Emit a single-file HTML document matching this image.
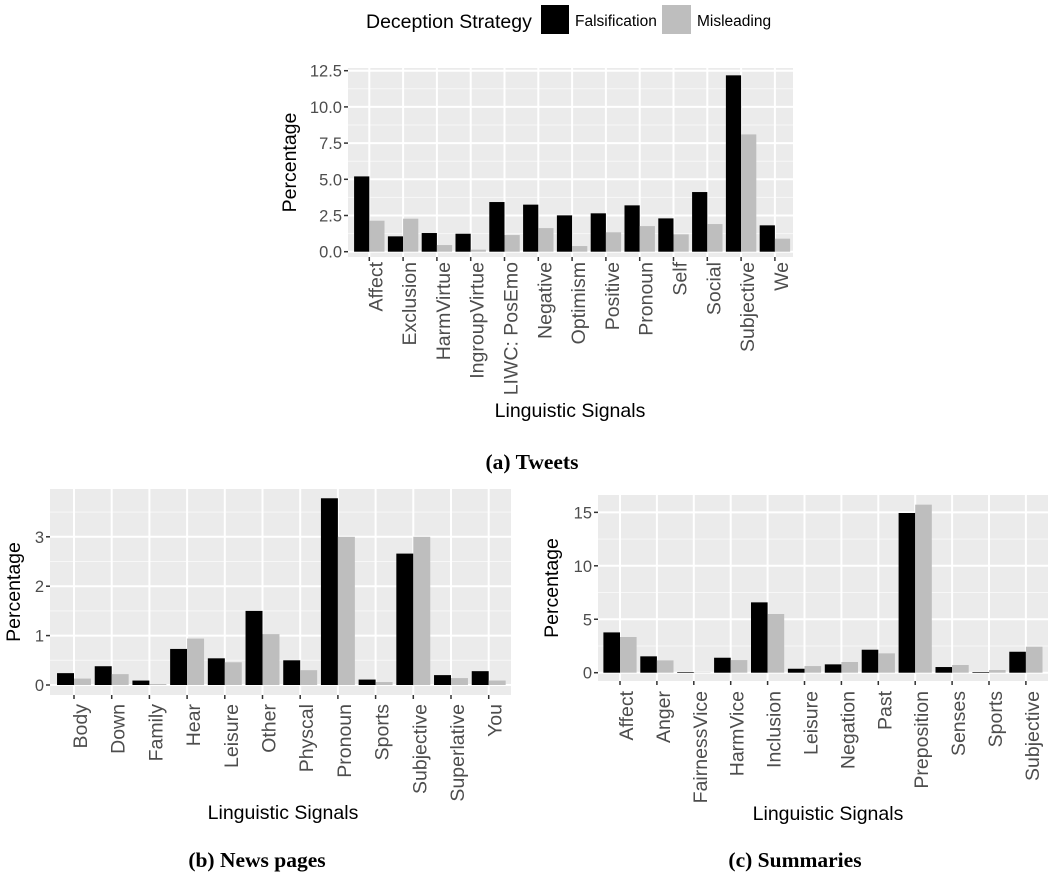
<!DOCTYPE html>
<html><head><meta charset="utf-8">
<style>
html,body{margin:0;padding:0;background:#fff;}
svg{display:block;font-family:"Liberation Sans",Arial,sans-serif;}
.cap{font-family:"Liberation Serif",serif;font-weight:bold;font-size:21.5px;fill:#000;}
</style></head>
<body>
<svg id="chart" width="1064" height="880" viewBox="0 0 1064 880" xmlns="http://www.w3.org/2000/svg">
  <g>
    <text x="366" y="28" font-size="19.5" fill="#000">Deception Strategy</text>
    <rect x="541" y="5" width="28" height="29" fill="#000"/>
    <text x="575" y="26" font-size="15.5" fill="#000">Falsification</text>
    <rect x="662" y="5" width="29" height="29" fill="#bebebe"/>
    <text x="697" y="26" font-size="15.5" fill="#000">Misleading</text>
  </g>
  <text class="cap" x="532" y="469" text-anchor="middle">(a) Tweets</text>
  <text class="cap" x="257" y="867" text-anchor="middle">(b) News pages</text>
  <text class="cap" x="795" y="867" text-anchor="middle">(c) Summaries</text>
</svg>
<script>
// Panel (a) Tweets
const catsA = ["Affect","Exclusion","HarmVirtue","IngroupVirtue","LIWC: PosEmo","Negative","Optimism","Positive","Pronoun","Self","Social","Subjective","We"];
const falsA = [5.2,1.06,1.29,1.24,3.43,3.25,2.51,2.65,3.2,2.3,4.12,12.18,1.82];
const misA  = [2.14,2.28,0.46,0.14,1.15,1.63,0.39,1.34,1.77,1.2,1.91,8.1,0.9];
const ticksA = ["0.0","2.5","5.0","7.5","10.0","12.5"];
const tickValsA = [0,2.5,5,7.5,10,12.5];
// Panel (b) News pages
const catsB = ["Body","Down","Family","Hear","Leisure","Other","Physcal","Pronoun","Sports","Subjective","Superlative","You"];
const falsB = [0.24,0.38,0.09,0.73,0.54,1.5,0.5,3.78,0.11,2.66,0.2,0.28];
const misB  = [0.13,0.22,0.02,0.94,0.46,1.03,0.3,3.0,0.06,3.0,0.14,0.09];
const ticksB = ["0","1","2","3"];
const tickValsB = [0,1,2,3];
// Panel (c) Summaries
const catsC = ["Affect","Anger","FairnessVice","HarmVice","Inclusion","Leisure","Negation","Past","Preposition","Senses","Sports","Subjective"];
const falsC = [3.77,1.53,0.06,1.4,6.58,0.37,0.78,2.15,14.94,0.53,0.06,1.96];
const misC  = [3.34,1.15,0.03,1.18,5.49,0.62,1.0,1.81,15.72,0.72,0.25,2.43];
const ticksC = ["0","5","10","15"];
const tickValsC = [0,5,10,15];

const NS = "http://www.w3.org/2000/svg";
const svg = document.getElementById('chart');
function mk(tag, attrs, parent, txt){
  const e = document.createElementNS(NS, tag);
  for (const k in attrs) e.setAttribute(k, attrs[k]);
  if (txt !== undefined) e.textContent = txt;
  parent.appendChild(e);
  return e;
}
function panel(id, g, cats, fals, mis, tickLabels, tickVals){
  const grp = mk('g', {}, svg);
  
  
  const yS = v => g.y0 - v * g.ppu;
  const xS = i => g.x0 + i * g.step;
  const bg = mk('rect', {x:g.left, y:g.top, width:g.right-g.left, height:g.bottom-g.top, fill:'#ebebeb'}, grp);
  
  
  for (let k = 0; k < tickVals.length; k++){
    const half = tickVals[k] + (tickVals[1]-tickVals[0])/2;
    const y = yS(half);
    if (y > g.top){
      const l = mk('line', {x1:g.left, x2:g.right, y1:y, y2:y, stroke:'#f7f7f7', 'stroke-width':1}, grp);
      
      
    }
  }
  tickVals.forEach((v, k) => {
    const y = yS(v);
    const l = mk('line', {x1:g.left, x2:g.right, y1:y, y2:y, stroke:'#fff', 'stroke-width':2}, grp);
    
    
    const t = mk('line', {x1:g.left-4, x2:g.left, y1:y, y2:y, stroke:'#333', 'stroke-width':1.5}, grp);
    
    
    const tl = mk('text', {x:g.left-6, y:y+6, 'text-anchor':'end', 'font-size':16.5, fill:'#4d4d4d'}, grp, tickLabels[k]);
    
    
  });
  const bw = g.step * 0.45;
  cats.forEach((c, i) => {
    const x = xS(i);
    const vl = mk('line', {x1:x, x2:x, y1:g.top, y2:g.bottom, stroke:'#fff', 'stroke-width':2}, grp);
    
    
    const b1 = mk('rect', {x:x-bw, y:yS(fals[i]), width:bw, height:Math.max(0, yS(0)-yS(fals[i])), fill:'#000'}, grp);
    
    
    const b2 = mk('rect', {x:x, y:yS(mis[i]), width:bw, height:Math.max(0, yS(0)-yS(mis[i])), fill:'#bebebe'}, grp);
    
    
    const t = mk('line', {x1:x, x2:x, y1:g.bottom, y2:g.bottom+4, stroke:'#333', 'stroke-width':1.5}, grp);
    
    
    const ly = g.labelTop;
    const bx = x + 13;
    const lt = mk('text', {x:bx, y:ly, 'text-anchor':'end', 'font-size':19.5, fill:'#4d4d4d', transform:'rotate(-90 '+bx+' '+ly+')'}, grp, c);
    
    
  });
  const xt = mk('text', {x:g.xtX, y:g.xtY, 'text-anchor':'middle', 'font-size':19.5, fill:'#000'}, grp, 'Linguistic Signals');
  
  
  const cy = (g.top + g.bottom)/2;
  const yt = mk('text', {x:g.ytX, y:cy, 'text-anchor':'middle', 'font-size':19.5, fill:'#000', transform:'rotate(-90 '+g.ytX+' '+cy+')'}, grp, 'Percentage');
  
  
}
panel('tweets', {left:348,right:793,top:68,bottom:257,y0:251.7,ppu:14.48,x0:369.3,step:33.8,labelTop:262,xtX:570,xtY:417,ytX:296}, catsA, falsA, misA, ticksA, tickValsA);
panel('news-pages', {left:50,right:511,top:489,bottom:695,y0:685,ppu:49.4,x0:74,step:37.7,labelTop:704,xtX:283,xtY:819,ytX:20}, catsB, falsB, misB, ticksB, tickValsB);
panel('summaries', {left:598,right:1048,top:495,bottom:681,y0:672.7,ppu:10.69,x0:620,step:36.9,labelTop:691,xtX:828,xtY:820,ytX:558}, catsC, falsC, misC, ticksC, tickValsC);
</script>
</body></html>
